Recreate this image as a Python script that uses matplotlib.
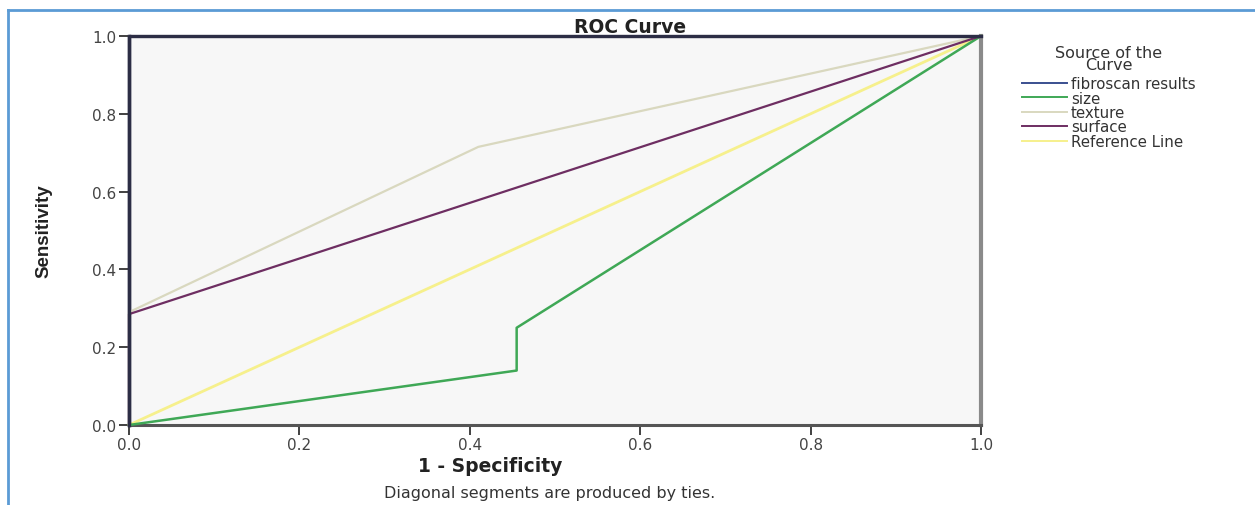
import matplotlib
matplotlib.use("Agg")
import matplotlib.pyplot as plt
from matplotlib.lines import Line2D

plt.rcParams['font.family'] = ['DejaVu Sans']

# ---- data ----
fibroscan_x = [0.0, 0.0, 1.0]
fibroscan_y = [0.0, 1.0, 1.0]
size_x = [0.0, 0.455, 0.455, 1.0]
size_y = [0.0, 0.14, 0.25, 1.0]
texture_x = [0.0, 0.0, 0.41, 1.0]
texture_y = [0.0, 0.29, 0.715, 1.0]
surface_x = [0.0, 0.0, 1.0]
surface_y = [0.0, 0.285, 1.0]
ref_x = [0.0, 1.0]
ref_y = [0.0, 1.0]
ticks = [0.0, 0.2, 0.4, 0.6, 0.8, 1.0]
tick_labels = ["0.0", "0.2", "0.4", "0.6", "0.8", "1.0"]
series_names = ["fibroscan results", "size", "texture", "surface", "Reference Line"]
series_colors = ["#3a4f8f", "#3fa856", "#d9d8bf", "#6e2e62", "#f6f08c"]

W, H = 1255, 506
fig = plt.figure(figsize=(W / 100, H / 100), dpi=100)
fig.patch.set_facecolor("white")

# blue frame lines (top and left)
fig.add_artist(Line2D([8 / W, 1.0], [1 - 11 / H, 1 - 11 / H], transform=fig.transFigure,
                      color="#5b9bd5", lw=2))
fig.add_artist(Line2D([8 / W, 8 / W], [0.0, 1 - 11 / H], transform=fig.transFigure,
                      color="#5b9bd5", lw=2))

left, right, top, bottom = 129, 981, 37, 426
ax = fig.add_axes([left / W, 1 - bottom / H, (right - left) / W, (bottom - top) / H])
ax.set_facecolor("#f7f7f7")

ax.plot(ref_x, ref_y, color=series_colors[4], lw=2.0, label=series_names[4], zorder=2, clip_on=False)
ax.plot(size_x, size_y, color=series_colors[1], lw=1.8, label=series_names[1], zorder=3, clip_on=False)
ax.plot(texture_x, texture_y, color=series_colors[2], lw=1.6, label=series_names[2], zorder=3, clip_on=False)
ax.plot(surface_x, surface_y, color=series_colors[3], lw=1.6, label=series_names[3], zorder=4, clip_on=False)
ax.plot(fibroscan_x, fibroscan_y, color="#2c2d45", lw=2.4, zorder=5, clip_on=False)

ax.set_xlim(0, 1)
ax.set_ylim(0, 1)
ax.set_xticks(ticks)
ax.set_xticklabels(tick_labels)
ax.set_yticks(ticks)
ax.set_yticklabels(tick_labels)
ax.tick_params(axis="both", direction="out", length=7, width=1.3, color="#333333",
               labelcolor="#444444", labelsize=11)
ax.tick_params(axis="x", pad=2)
ax.tick_params(axis="y", pad=2)

for side in ["top", "bottom"]:
    ax.spines[side].set_color("#555555")
    ax.spines[side].set_linewidth(2.2)
ax.spines["right"].set_color("#8a8a8a")
ax.spines["right"].set_linewidth(3)
ax.spines["left"].set_color("#2c2d45")
ax.spines["left"].set_linewidth(2.5)

ax.set_title("ROC Curve", fontsize=13.5, fontweight="bold", color="#222222", pad=2,
             x=(630 - left) / (right - left))
ax.set_xlabel("1 - Specificity", fontsize=13.5, fontweight="bold", color="#222222")
ax.xaxis.set_label_coords((490 - left) / (right - left), -(457 - bottom) / (bottom - top))
ax.set_ylabel("Sensitivity", fontsize=13.5, fontweight="bold", color="#222222",
              family=["Liberation Sans Narrow", "Liberation Sans"])
ax.yaxis.set_label_coords((52 - left) / (right - left), 0.5)

fig.text(550 / W, 1 - 494 / H, "Diagonal segments are produced by ties.", ha="center", va="center",
         fontsize=11.5, color="#333333")

handles = [Line2D([], [], color=c, lw=1.4) for c in series_colors]
leg = fig.legend(handles, series_names, title="Source of the\nCurve", loc="upper left",
                 bbox_to_anchor=(1014 / W, 1 - 38 / H), frameon=False, fontsize=10.8,
                 title_fontsize=11.5, handlelength=3.0, handletextpad=0.3, labelspacing=-0.04,
                 borderpad=0.0)
leg.set_alignment("center")
leg.get_title().set_color("#333333")
leg.get_title().set_linespacing(0.8)
leg.get_title().set_multialignment("center")
leg._legend_box.sep = 3
for t in leg.get_texts():
    t.set_color("#333333")

fig.savefig("out.png", dpi=100, facecolor="white")
